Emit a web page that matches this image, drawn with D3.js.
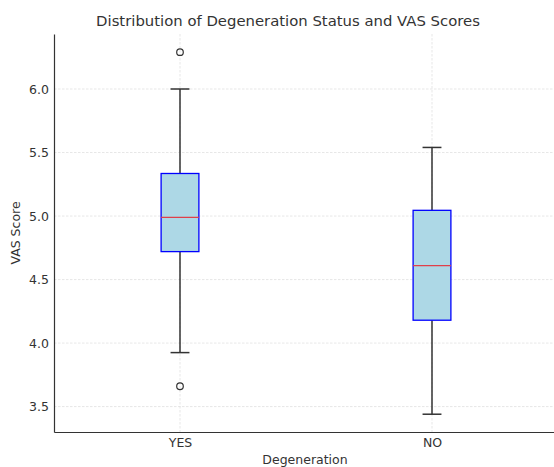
<!DOCTYPE html>
<html>
<head>
<meta charset="utf-8">
<script src="https://cdn.jsdelivr.net/npm/d3@7"></script>
<style>
  body { margin: 0; background: #fff; }
  svg text { font-family: "DejaVu Sans", sans-serif; fill: #333; }
</style>
</head>
<body>
<svg id="chart" width="554" height="467"></svg>
<script>
// box statistics
const groups = ['YES', 'NO'];
const q1 = [4.72, 4.18];
const medians = [4.99, 4.61];
const q3 = [5.335, 5.045];
const whiskerLow = [3.925, 3.44];
const whiskerHigh = [6.0, 5.54];
const outliers = [[6.29, 3.66], []];
const yTicks = [3.5, 4.0, 4.5, 5.0, 5.5, 6.0];

const svg = d3.select('#chart');
const plotLeft = 54, plotRight = 558, plotTop = 34, plotBottom = 432;

const x = d3.scaleLinear().domain([0.5, 2.5]).range([plotLeft, plotRight]);
const y = d3.scaleLinear().domain([3.3, 6.433]).range([plotBottom, plotTop]);
const boxW = x(0.15) - x(0);
const capW = boxW / 2;

// grid
svg.append('g').selectAll('line').data(yTicks).join('line')
  .attr('x1', plotLeft).attr('x2', plotRight)
  .attr('y1', d => y(d)).attr('y2', d => y(d))
  .attr('stroke', '#dcdcdc').attr('stroke-width', 0.7).attr('stroke-dasharray', '2.5 1.5');
svg.append('g').selectAll('line').data(groups).join('line')
  .attr('x1', (d, i) => x(i + 1)).attr('x2', (d, i) => x(i + 1))
  .attr('y1', plotTop).attr('y2', plotBottom)
  .attr('stroke', '#dcdcdc').attr('stroke-width', 0.7).attr('stroke-dasharray', '2.5 1.5');

// boxes
const g = svg.append('g').selectAll('g').data(groups).join('g');
g.each(function(d, i) {
  const sel = d3.select(this);
  const cx = x(i + 1);
  sel.append('line').attr('x1', cx).attr('x2', cx)
    .attr('y1', y(q3[i])).attr('y2', y(whiskerHigh[i]))
    .attr('stroke', '#333').attr('stroke-width', 1.5);
  sel.append('line').attr('x1', cx).attr('x2', cx)
    .attr('y1', y(q1[i])).attr('y2', y(whiskerLow[i]))
    .attr('stroke', '#333').attr('stroke-width', 1.5);
  [whiskerHigh[i], whiskerLow[i]].forEach(v => {
    sel.append('line').attr('x1', cx - capW / 2).attr('x2', cx + capW / 2)
      .attr('y1', y(v)).attr('y2', y(v))
      .attr('stroke', '#333').attr('stroke-width', 1.5);
  });
  sel.append('rect')
    .attr('x', cx - boxW / 2).attr('width', boxW)
    .attr('y', y(q3[i])).attr('height', y(q1[i]) - y(q3[i]))
    .attr('fill', 'lightblue').attr('stroke', 'blue').attr('stroke-width', 1.3);
  sel.append('line').attr('x1', cx - boxW / 2).attr('x2', cx + boxW / 2)
    .attr('y1', y(medians[i])).attr('y2', y(medians[i]))
    .attr('stroke', '#e0404a').attr('stroke-width', 1.3);
  sel.selectAll('circle').data(outliers[i]).join('circle')
    .attr('cx', cx).attr('cy', v => y(v)).attr('r', 3.3)
    .attr('fill', 'none').attr('stroke', '#333').attr('stroke-width', 1.2);
});

// axes
const yAxis = svg.append('g').attr('transform', `translate(${plotLeft},0)`)
  .call(d3.axisLeft(y).tickValues(yTicks).tickFormat(d3.format('.1f')).tickSize(0).tickPadding(5));
yAxis.select('.domain').attr('stroke', '#333').attr('stroke-width', 1.2);
yAxis.selectAll('text').style('font-size', '12.5px');

const xAxis = svg.append('g').attr('transform', `translate(0,${plotBottom})`)
  .call(d3.axisBottom(x).tickValues([1, 2]).tickFormat((d, i) => groups[i]).tickSize(0).tickPadding(6));
xAxis.select('.domain').attr('stroke', '#333').attr('stroke-width', 1.2);
xAxis.selectAll('text').style('font-size', '12.5px');

svg.append('text').attr('x', 288).attr('y', 26)
  .attr('text-anchor', 'middle').style('font-size', '14.85px')
  .text('Distribution of Degeneration Status and VAS Scores');
svg.append('text').attr('x', 305).attr('y', 464)
  .attr('text-anchor', 'middle').style('font-size', '12.5px')
  .text('Degeneration');
svg.append('text').attr('transform', 'translate(20,233) rotate(-90)')
  .attr('text-anchor', 'middle').style('font-size', '12.5px')
  .text('VAS Score');
</script>
</body>
</html>
